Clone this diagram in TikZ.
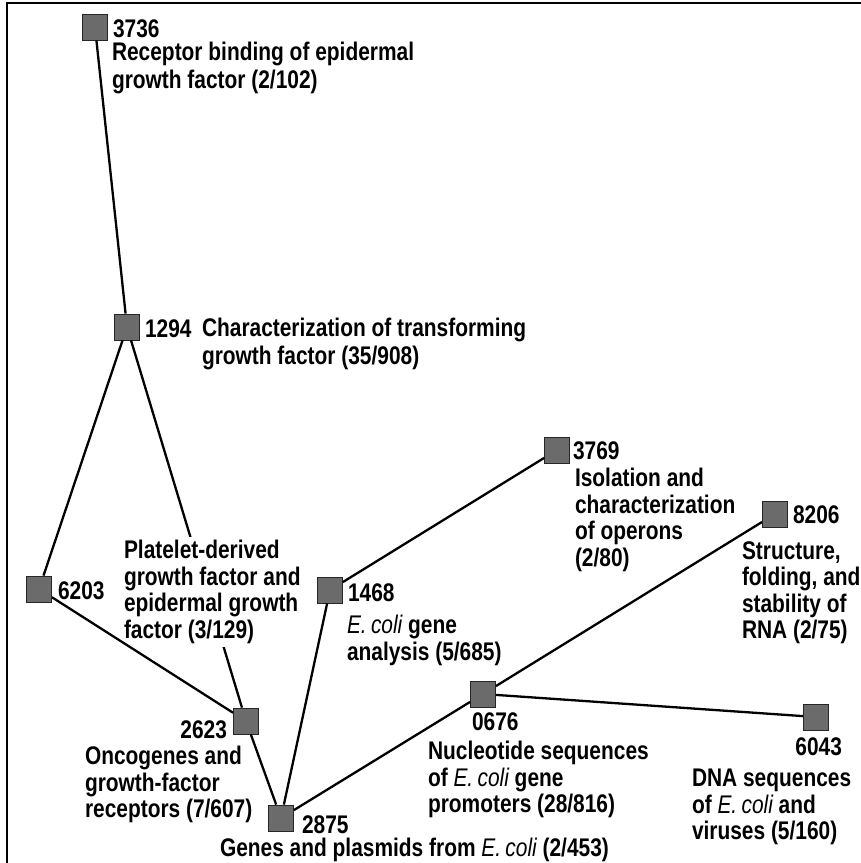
\documentclass[tikz,border=0pt]{standalone}
\usepackage{fontspec}
\setmainfont{Liberation Sans}[FakeStretch=0.82]
\newcommand\Ecoli{{\mdseries\itshape E.\,coli}}
\begin{document}
\begin{tikzpicture}[x=1pt,y=-1pt,
  font=\fontsize{25.5}{26.5}\selectfont\bfseries,
  sq/.style={rectangle, minimum width=25pt, minimum height=26pt, inner sep=0pt,
    fill=black!58, draw=black!85, line width=0.8pt},
  lbl/.style={inner sep=0pt, outer sep=0pt, align=left, anchor=north west},
  num/.style={inner sep=0pt, outer sep=0pt, anchor=base west},
  link/.style={line width=2.3pt},
  wide/.style={font=\fontsize{25.5}{28}\selectfont\bfseries}]
\useasboundingbox (0,0) rectangle (861,863);
% frame
\draw[line width=2pt] (7,863) -- (7,3) -- (861,3);
% topic squares
\node[sq] (n3736) at (95,27) {};
\node[sq] (n1294) at (127,327) {};
\node[sq] (n6203) at (39,589) {};
\node[sq] (n1468) at (330,590) {};
\node[sq] (n2623) at (246,721) {};
\node[sq] (n2875) at (281,818) {};
\node[sq] (n3769) at (557,450) {};
\node[sq] (n8206) at (775,514) {};
\node[sq] (n0676) at (483,694) {};
\node[sq] (n6043) at (816,717) {};
% connector interrupted by its label
\draw[link] (n1294) -- (n2623);
\node[lbl, fill=white, inner ysep=3pt] (dpdgf) at (124,537.3) {Platelet-derived\\growth factor and\\epidermal growth\\factor (3/129)};
% connectors
\draw[link] (n3736) -- (n1294);
\draw[link] (n1294) -- (n6203);
\draw[link] (n6203) -- (n2623);
\draw[link] (n2623) -- (n2875);
\draw[link] (n2875) -- (n1468);
\draw[link] (n1468) -- (n3769);
\draw[link] (n2875) -- (n0676);
\draw[link] (n0676) -- (n8206);
\draw[link] (n0676) -- (n6043);
% labels
\node[num] (t3736) at (113,37) {3736};
\node[lbl,wide] (d3736) at (112,42.3) {Receptor binding of epidermal\\growth factor (2/102)};
\node[num] (t1294) at (145,337) {1294};
\node[lbl,wide] (d1294) at (202,318.3) {Characterization of transforming\\growth factor (35/908)};
\node[num] (t6203) at (58,599) {6203};
\node[num] (t1468) at (348,601) {1468};
\node[lbl] (d1468) at (347,615.3) {\Ecoli{} gene\\analysis (5/685)};
\node[num, anchor=base east] (t2623) at (227,738) {2623};
\node[lbl] (d2623) at (85,746.3) {Oncogenes and\\growth-factor\\receptors (7/607)};
\node[num] (t2875) at (302,833) {2875};
\node[num] (d2875) at (220,856.5) {Genes and plasmids from \Ecoli{} (2/453)};
\node[num] (t3769) at (573,459) {3769};
\node[lbl] (d3769) at (575,468.3) {Isolation and\\characterization\\of operons\\(2/80)};
\node[num] (t8206) at (793,523) {8206};
\node[lbl] (d8206) at (742,541.3) {Structure,\\folding, and\\stability of\\RNA (2/75)};
\node[num] (t0676) at (472,730) {0676};
\node[lbl] (d0676) at (428,741.3) {Nucleotide sequences\\of \Ecoli{} gene\\promoters (28/816)};
\node[num, anchor=base east] (t6043) at (842,755) {6043};
\node[lbl] (d6043) at (692,769.3) {DNA sequences\\of \Ecoli{} and\\viruses (5/160)};
\end{tikzpicture}
\end{document}
